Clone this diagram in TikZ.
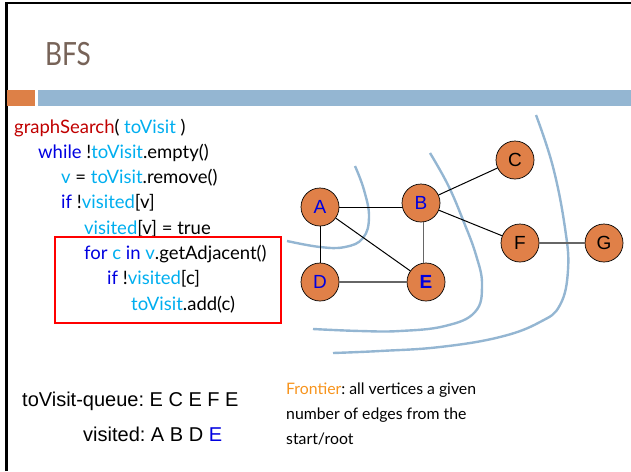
\documentclass[tikz,border=0pt]{standalone}
\usepackage{fontspec}
\setmainfont{Lato}
\newfontfamily\arialf{Liberation Sans}
\definecolor{kwblue}{HTML}{0000E0}
\definecolor{idblue}{HTML}{00AEEF}
\definecolor{fnred}{HTML}{C00000}
\definecolor{titlec}{HTML}{776358}
\definecolor{barblue}{HTML}{94B6D2}
\definecolor{barorange}{HTML}{DD8047}
\definecolor{nodeor}{HTML}{E08048}
\definecolor{frontc}{HTML}{F7941D}
\newcommand{\kw}[1]{\textcolor{kwblue}{#1}}
\newcommand{\idf}[1]{\textcolor{idblue}{#1}}
\frenchspacing
\tikzset{
  codeline/.style={anchor=base west, inner sep=0pt, font=\fontsize{18.5}{22}\selectfont},
  vtx/.style={circle, draw=black, fill=nodeor, minimum size=38pt, inner sep=0pt, line width=0.7pt, font=\arialf\fontsize{19}{22}\selectfont},
  edge/.style={line width=1pt, draw=black},
  gedge/.style={line width=1.2pt, draw=black!60},
  front/.style={barblue, line width=2.4pt},
  qtext/.style={anchor=base west, inner sep=0pt, font=\arialf\fontsize{20}{24}\selectfont},
  ftext/.style={anchor=base west, inner sep=0pt, font=\fontsize{15.8}{18}\selectfont}
}
\begin{document}
\begin{tikzpicture}[x=1pt,y=-1pt]
\useasboundingbox (0,0) rectangle (631,471);
% frame
\draw[line width=2.6pt] (6.5,471) -- (6.5,3) -- (631,3);
% title
\node[anchor=base west, inner sep=0pt, text=titlec, font=\fontsize{32}{36}\selectfont] (title) at (45,65) {\scalebox{0.82}[1]{BFS}};
% bars
\fill[barorange] (7,90) rectangle (35,106);
\fill[barblue] (38,90) rectangle (631,106);
% code
\node[codeline] (l1) at (14,133) {\textcolor{fnred}{graphSearch}( \idf{toVisit} )};
\node[codeline] (l2) at (38,158.3) {\kw{while} !\idf{toVisit}.empty()};
\node[codeline] (l3) at (61,183.6) {\idf{v} = \idf{toVisit}.remove()};
\node[codeline] (l4) at (61,208.9) {\kw{if} !\idf{visited}[v]};
\node[codeline] (l5) at (84,234.2) {\idf{visited}[v] = true};
\node[codeline] (l6) at (84,259.5) {\kw{for} \idf{c} \kw{in} \idf{v}.getAdjacent()};
\node[codeline] (l7) at (107,284.8) {\kw{if} !\idf{visited}[c]};
\node[codeline] (l8) at (131,310.1) {\idf{toVisit}.add(c)};
\draw[red, line width=2pt] (55,237) rectangle (281,323);
% frontier curves
\draw[front] plot[smooth, tension=0.7] coordinates {(355,166) (364,190) (369,217) (363,238) (345,247) (320,247) (287,241)};
\draw[front] plot[smooth, tension=0.7] coordinates {(430,153) (448,185) (463,220) (476,255) (482,285) (475,312) (445,326) (400,331) (360,331) (313,329)};
\draw[front] plot[smooth, tension=0.7] coordinates {(536,115) (553,167) (565,228) (568,270) (560,305) (540,322) (500,337) (440,347) (380,351) (333,353)};
% graph
\node[vtx, text=kwblue] (A) at (320,207) {A};
\node[vtx, text=kwblue] (B) at (421,203) {B};
\node[vtx] (C) at (515,160) {C};
\node[vtx, text=kwblue] (D) at (320,282) {D};
\node[vtx, text=kwblue, font=\arialf\bfseries\fontsize{19}{22}\selectfont] (E) at (426,282) {E};
\node[vtx] (F) at (520,243) {F};
\node[vtx] (G) at (604,243) {G};
\draw[edge] (A.east) -- (A.east -| B.west);
\draw[edge] (A) -- (D);
\draw[edge] (A) -- (E);
\draw[edge] (B) -- (C);
\draw[edge] (B) -- (F);
\draw[gedge] (B.south) ++(2.5,0) coordinate (bs) -- (bs |- E.north);
\draw[gedge] (D) -- (E);
\draw[gedge] (F) -- (G);
% queue text
\node[qtext] (q1) at (22,406) {toVisit-queue: E C E F E};
\node[qtext] (q2) at (83,441) {visited: A B D \textcolor{kwblue}{E}};
% frontier text
\node[ftext] (f1) at (286,394) {\textcolor{frontc}{Frontier}: all vertices a given};
\node[ftext] (f2) at (286,419) {number of edges from the};
\node[ftext] (f3) at (286,444) {start/root};
\end{tikzpicture}
\end{document}
